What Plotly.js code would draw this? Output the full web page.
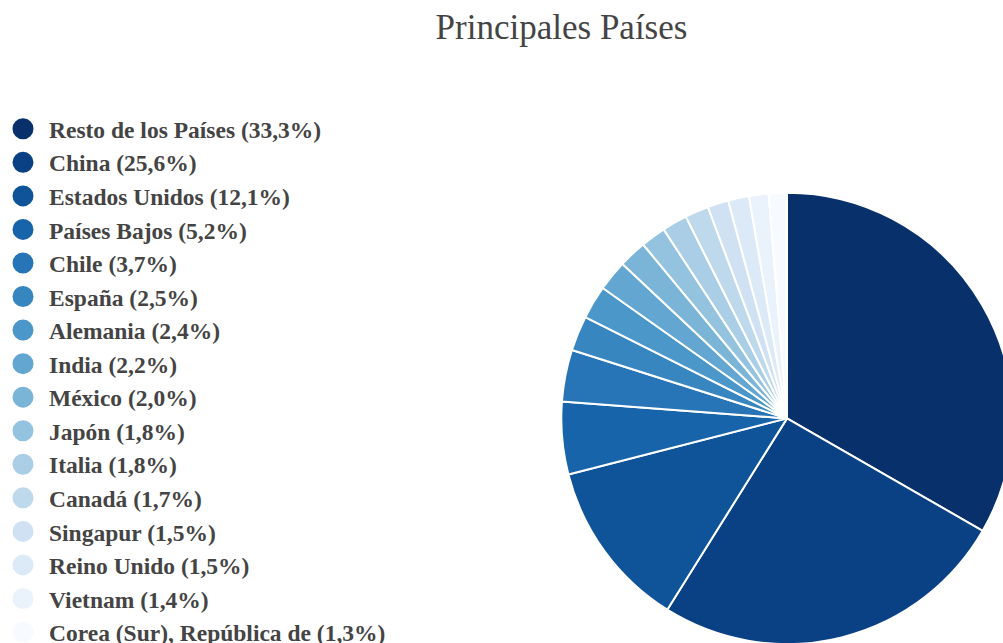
<!DOCTYPE html>
<html>
<head>
<meta charset="utf-8">
<script src="https://cdn.plot.ly/plotly-3.0.1.min.js"></script>
<style>
html, body { margin: 0; padding: 0; overflow: hidden; background: #fff; }
#chart { width: 1129px; height: 700px; margin-left: -3px; }
</style>
</head>
<body>
<div id="chart"></div>
<script>
// Data
const countries = [
  "Resto de los Países", "China", "Estados Unidos", "Países Bajos", "Chile",
  "España", "Alemania", "India", "México", "Japón", "Italia", "Canadá",
  "Singapur", "Reino Unido", "Vietnam", "Corea (Sur), República de"
];
const shares = [33.3, 25.6, 12.1, 5.2, 3.7, 2.5, 2.4, 2.2, 2.0, 1.8, 1.8, 1.7, 1.5, 1.5, 1.4, 1.3];

// Styles
const colors = [
  "#08306b", "#094184", "#0f5399", "#1864aa", "#2775b6", "#3886c0",
  "#4b97c9", "#62a6d1", "#7ab5d8", "#93c3df", "#aacee6", "#bed8ec",
  "#cfe1f2", "#dceaf7", "#eaf2fb", "#f7fbff"
];

const labels = countries.map((c, i) => c + " (" + shares[i].toFixed(1).replace(".", ",") + "%)");

// figure is offset 3px to the left of the window
const W = 1129, H = 700, OFF = 3;
const cx = 787 + OFF, cy = 418.4, r = 225.7;

const traces = [{
  type: "pie",
  labels: labels,
  values: shares,
  sort: false,
  direction: "clockwise",
  rotation: 0,
  textinfo: "none",
  hoverinfo: "label",
  showlegend: false,
  marker: { colors: colors, line: { color: "#ffffff", width: 2 } },
  domain: { x: [(cx - r) / W, (cx + r) / W], y: [1 - (cy + r) / H, 1 - (cy - r) / H] }
}];

labels.forEach((lab, i) => {
  traces.push({
    type: "scatter",
    mode: "markers",
    x: [null], y: [null],
    name: lab,
    hoverinfo: "skip",
    marker: { symbol: "circle", size: 16, color: colors[i], line: { color: colors[i], width: 5 } }
  });
});

const layout = {
  width: W, height: H,
  margin: { l: 0, r: 0, t: 0, b: 0 },
  paper_bgcolor: "#ffffff",
  plot_bgcolor: "#ffffff",
  title: {
    text: "Principales Países",
    x: (561.5 + OFF) / W, xref: "container", xanchor: "center",
    y: 1 - 27 / H, yref: "container", yanchor: "middle",
    font: { family: "Liberation Serif, Times New Roman, serif", size: 35, color: "#444444" }
  },
  xaxis: { visible: false },
  yaxis: { visible: false },
  showlegend: true,
  legend: {
    x: 0, xanchor: "left",
    y: 1 - 107 / H, yanchor: "top",
    traceorder: "normal",
    itemwidth: 42,
    bgcolor: "rgba(0,0,0,0)",
    font: { family: "Liberation Serif, Times New Roman, serif", size: 23.5, color: "#444444", weight: "bold" }
  }
};

Plotly.newPlot("chart", traces, layout, { displayModeBar: false });
</script>
</body>
</html>
